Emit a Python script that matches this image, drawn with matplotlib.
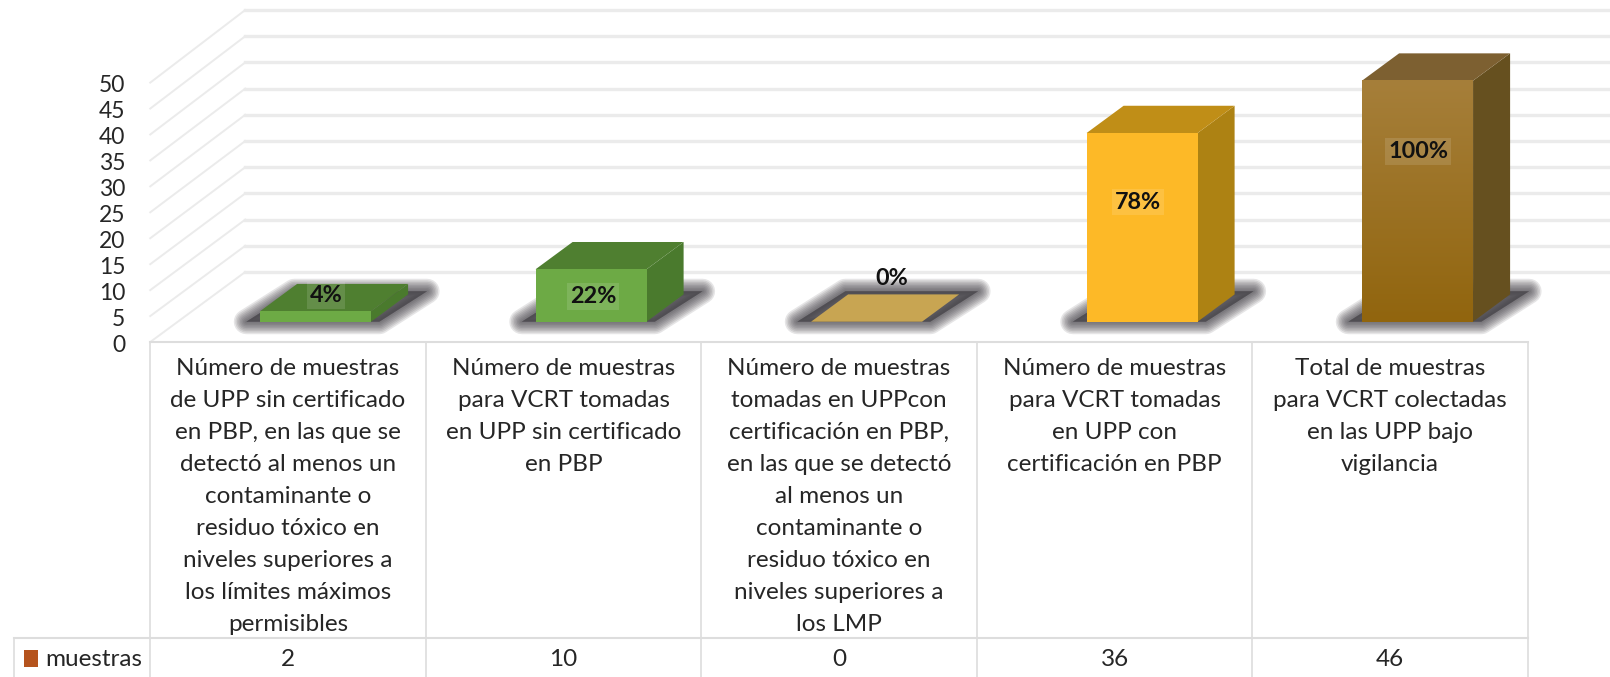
import numpy as np
import matplotlib
matplotlib.use('Agg')
import matplotlib.pyplot as plt
from matplotlib.colors import LinearSegmentedColormap
from matplotlib.patches import Polygon

# datos
categorias = [
    'Número de muestras\nde UPP sin certificado\nen PBP, en las que se\ndetectó al menos un\ncontaminante o\nresiduo tóxico en\nniveles superiores a\nlos límites máximos\npermisibles',
    'Número de muestras\npara VCRT tomadas\nen UPP sin certificado\nen PBP',
    'Número de muestras\ntomadas en UPPcon\ncertificación en PBP,\nen las que se detectó\nal menos un\ncontaminante o\nresiduo tóxico en\nniveles superiores a\nlos LMP',
    'Número de muestras\npara VCRT tomadas\nen UPP con\ncertificación en PBP',
    'Total de muestras\npara VCRT colectadas\nen las UPP bajo\nvigilancia',
]
muestras = [2, 10, 0, 36, 46]
porcentajes = ['4%', '22%', '0%', '78%', '100%']
ticks_y = [0, 5, 10, 15, 20, 25, 30, 35, 40, 45, 50]
serie = 'muestras'

# estilo
color_frente = ['#6DAA45', '#6DAA45', '#C8A552', '#FDB927', '#9A7020']
color_arriba = ['#4F7F30', '#4F7F30', '#C8A552', '#C08E17', '#7D6031']
color_lado = ['#4A7A2D', '#4A7A2D', '#C8A552', '#AD8213', '#66501F']
color_rejilla = '#EBEBEB'
color_texto = '#262626'
etiqueta_y = [8.9, 8.7, 12.2, 26.7, 36.4]
etiqueta_x = [0.138, 0.107, 0.192, 0.085, 0.102]

PX_X = 275.5   # pixeles por categoria
PX_Y = 5.24    # pixeles por unidad
DX = 95 / PX_X
DY = 70 / PX_Y
D0, D1 = 0.29, 0.68
ANCHO = 111 / PX_X
plt.rcParams['font.family'] = ['Lato', 'DejaVu Sans']

fig = plt.figure(figsize=(16.1, 6.77), dpi=100)
ax = fig.add_axes([0, 0, 1, 1])
ax.axis('off')


def p(x, v, d):
    return (x + DX * d, v + DY * d)


def poli(puntos, color, z, **kw):
    ax.add_patch(Polygon(puntos, closed=True, facecolor=color, edgecolor='none', zorder=z, **kw))


xmin = -288 / PX_X
xmax = (1610 - 288) / PX_X
ymin = (342 - 677) / PX_Y
ymax = 342 / PX_Y

# rejilla
for t in ticks_y:
    x0, y0 = p(-0.5, t, 0)
    x1, y1 = p(-0.5, t, 1)
    ax.plot([x0, x1], [y0 * 0.99, y1], color=color_rejilla, lw=1.4, zorder=1)
    ax.plot([x1, xmax], [y1, y1], color=color_rejilla, lw=2.4, zorder=1)
    ax.text(-0.5 - 25 / PX_X, t * 0.99 - 0.6, str(t), ha='right', va='center', fontsize=16.5,
            color=color_texto)

# barras
for i, v in enumerate(muestras):
    izq = i - ANCHO / 2
    der = i + ANCHO / 2
    # sombra difusa en el piso
    sombra = [p(izq - 0.05, 0, D0), p(der + 0.03, 0, D0),
              p(der + 0.069, 0.6, D1), p(izq - 0.01, 0.6, D1)]
    for k in range(8):
        ax.add_patch(Polygon(sombra, closed=True, facecolor='#3F3C42', edgecolor='#3F3C42',
                             lw=18 - 2.2 * k, alpha=0.13, joinstyle='round', zorder=2))

    base_x, base_y = p(i, 0, D0)
    if v == 0:
        poli([p(izq, 0, D0), p(der, 0, D0), p(der, 0, D1), p(izq, 0, D1)], color_frente[i], 3)
        continue
    poli([p(der, 0, D0), p(der, 0, D1), p(der, v, D1), p(der, v, D0)], color_lado[i], 3)
    poli([p(izq, v, D0), p(der, v, D0), p(der, v, D1), p(izq, v, D1)], color_arriba[i], 3)
    if i == 4:
        # la ultima barra tiene degradado vertical
        cm = LinearSegmentedColormap.from_list('b', ['#A67F3A', '#91650E'])
        ax.imshow(np.linspace(0, 1, 256).reshape(-1, 1), cmap=cm, aspect='auto', zorder=4,
                  extent=(base_x - ANCHO / 2, base_x + ANCHO / 2, base_y, base_y + v), origin='upper')
    else:
        ax.bar(base_x, v, width=ANCHO, bottom=base_y, color=color_frente[i], zorder=4)

# etiquetas de datos
for i, txt in enumerate(porcentajes):
    caja = dict(facecolor='white', alpha=0.12, edgecolor='none', pad=2) if i != 2 else None
    ax.text(i + etiqueta_x[i], etiqueta_y[i], txt, ha='center', va='center',
            fontsize=16.8, fontweight='bold', color='#111111', zorder=6, bbox=caja)

# tabla de datos
n = len(categorias)
y_fila = (342 - 638) / PX_Y
for i in range(n + 1):
    ax.plot([i - 0.5, i - 0.5], [0, ymin], color='#DDDDDD', lw=1.2, zorder=1)
ax.plot([-0.5, n - 0.5], [0, 0], color='#DDDDDD', lw=1.5, zorder=1)
x_ley = -0.5 - 136 / PX_X
ax.plot([x_ley, n - 0.5], [y_fila, y_fila], color='#DDDDDD', lw=1.5, zorder=1)
ax.plot([x_ley, x_ley], [y_fila, ymin], color='#DDDDDD', lw=1.2, zorder=1)

for i, cat in enumerate(categorias):
    ax.text(i, (342 - 358) / PX_Y, cat, ha='center', va='top', fontsize=17.5, color=color_texto,
            linespacing=1.645)
    ax.text(i, (342 - 660) / PX_Y, str(muestras[i]), ha='center', va='center', fontsize=17.5,
            color=color_texto)

ax.add_patch(Polygon([(x_ley + 10 / PX_X, (342 - 650) / PX_Y), (x_ley + 24 / PX_X, (342 - 650) / PX_Y),
                      (x_ley + 24 / PX_X, (342 - 667) / PX_Y), (x_ley + 10 / PX_X, (342 - 667) / PX_Y)],
                     closed=True, facecolor='#B5531D', edgecolor='none'))
ax.text(x_ley + 31 / PX_X, (342 - 660) / PX_Y, serie, ha='left', va='center', fontsize=17.5, color=color_texto)

ax.set_xlim(xmin, xmax)
ax.set_ylim(ymin, ymax)
fig.savefig('out.png', dpi=100)
plt.close(fig)
